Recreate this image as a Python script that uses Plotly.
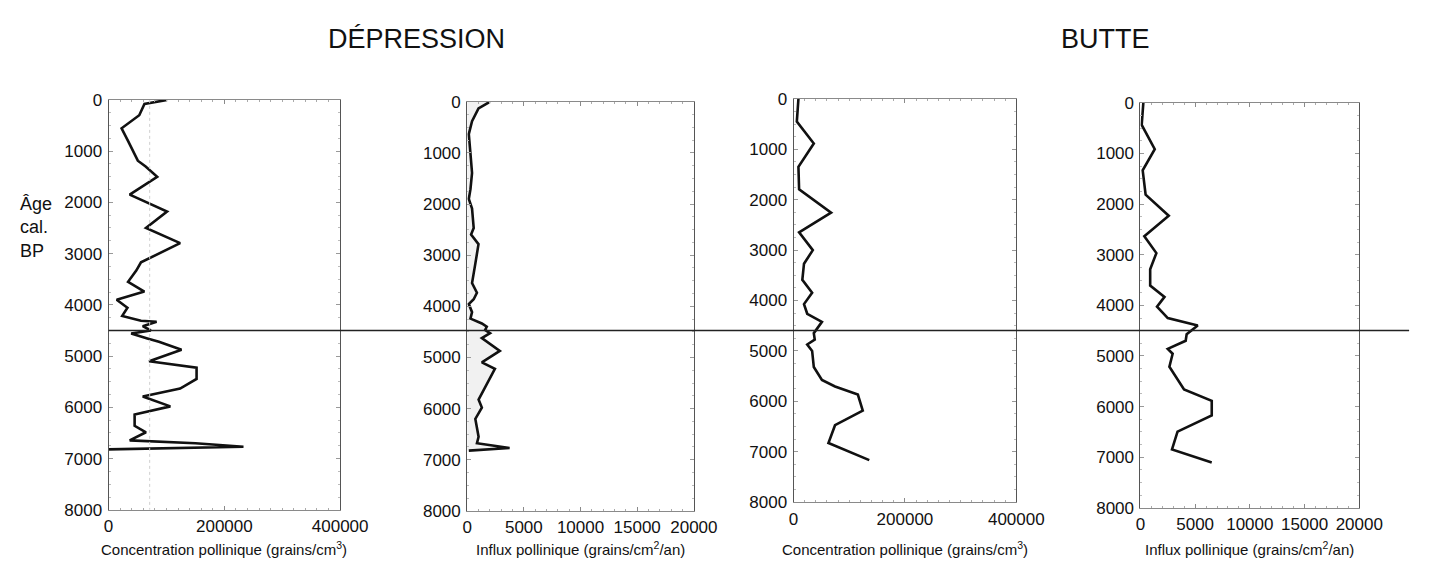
import plotly.graph_objects as go

# ---- Dépression : concentration pollinique (grains/cm3) vs âge cal. BP
dep_conc_age = [0, 80, 300, 555, 810, 1186, 1300, 1500, 1850, 2180, 2500, 2795, 3170, 3330,
                3550, 3740, 3900, 4057, 4215, 4310, 4330, 4416, 4500, 4560, 4656, 4720,
                4877, 5100, 5224, 5445, 5634, 5790, 5981, 6140, 6360, 6486, 6644, 6700,
                6770, 6820]
dep_conc_val = [101000, 62000, 53000, 22500, 34000, 50500, 64000, 84000, 36500, 101000,
                64600, 123600, 56000, 47800, 33700, 61800, 14000, 32600, 23600, 56000,
                83000, 59000, 73000, 39000, 67000, 87000, 126000, 70000, 152000, 152000,
                123600, 59000, 106700, 45000, 45000, 64600, 36500, 150000, 233000, 0]

# ---- Dépression : influx pollinique (grains/cm2/an)
dep_infl_age = [0, 127, 380, 633, 1013, 1392, 1709, 1900, 2089, 2468, 2595, 2785, 3165,
                3544, 3734, 3861, 3956, 4114, 4240, 4335, 4399, 4462, 4525, 4620, 4873,
                5095, 5222, 5823, 5981, 6203, 6551, 6677, 6772, 6823]
dep_infl_val = [2000, 1000, 430, 144, 290, 430, 290, 144, 430, 575, 345, 1000, 720, 430,
                860, 575, 144, 430, 290, 1295, 1727, 1583, 2014, 1295, 2878, 1295, 2446,
                1007, 1295, 720, 1007, 863, 3741, 144]

# ---- Butte : concentration pollinique
but_conc_age = [0, 450, 885, 1346, 1795, 2256, 2647, 3000, 3270, 3590, 3846, 4071, 4263,
                4423, 4647, 4776, 4872, 5000, 5320, 5577, 5705, 5865, 6186, 6474, 6827,
                7167]
but_conc_val = [8800, 5900, 36400, 8800, 10000, 67400, 10000, 34600, 18800, 15800, 33400,
                18800, 24600, 51000, 36400, 38100, 24600, 33400, 36400, 51000, 74500,
                115500, 124300, 74500, 62700, 136000]

# ---- Butte : influx pollinique
but_infl_age = [0, 436, 917, 1333, 1814, 2231, 2635, 2968, 3288, 3609, 3833, 4026, 4250,
                4397, 4571, 4699, 4859, 4955, 5212, 5660, 5885, 6173, 6494, 6846, 7103]
but_infl_val = [268, 119, 1310, 208, 476, 2589, 357, 1458, 893, 893, 2202, 1518, 2500,
                5238, 4226, 4137, 2500, 2946, 2649, 3988, 6518, 6518, 3393, 2887, 6518]

age_ticks = [0, 1000, 2000, 3000, 4000, 5000, 6000, 7000, 8000]
conc_ticks = [0, 200000, 400000]
infl_ticks = [0, 5000, 10000, 15000, 20000]
boundary_age = 4500          # horizontal marker across all panels
dep_conc_guide = 71000       # faint vertical guide in the first panel

site_titles = ["DÉPRESSION", "BUTTE"]
conc_title = "Concentration pollinique (grains/cm<sup>3</sup>)"
infl_title = "Influx pollinique (grains/cm<sup>2</sup>/an)"

W, H = 1442, 574
FONT = "Liberation Sans, Arial, sans-serif"

def px_x(a, b):
    return [a / W, b / W]

def px_y(top, bottom):
    return [1 - bottom / H, 1 - top / H]

panels = [
    dict(age=dep_conc_age, val=dep_conc_val, xd=px_x(106, 343), yd=px_y(94, 518),
         rng=[0, 400000], ticks=conc_ticks, minor=20000, fill=False),
    dict(age=dep_infl_age, val=dep_infl_val, xd=px_x(473, 705), yd=px_y(96, 519),
         rng=[0, 20000], ticks=infl_ticks, minor=1000, fill=True),
    dict(age=but_conc_age, val=but_conc_val, xd=px_x(807, 1035), yd=px_y(93, 510),
         rng=[0, 400000], ticks=conc_ticks, minor=20000, fill=False),
    dict(age=but_infl_age, val=but_infl_val, xd=px_x(1162, 1386), yd=px_y(97, 516),
         rng=[0, 20000], ticks=infl_ticks, minor=1000, fill=False),
]

fig = go.Figure()
layout = dict(
    width=W, height=H, margin=dict(l=0, r=0, t=0, b=0),
    paper_bgcolor="white", plot_bgcolor="white", showlegend=False,
    font=dict(family=FONT, color="#111"),
)

for i, p in enumerate(panels, start=1):
    xa = "x" if i == 1 else f"x{i}"
    ya = "y" if i == 1 else f"y{i}"
    fig.add_trace(go.Scatter(
        x=p["val"], y=p["age"], xaxis=xa, yaxis=ya, mode="lines",
        line=dict(color="#111", width=2.6),
        fill="tozerox" if p["fill"] else None,
        fillcolor="rgba(200,200,200,0.25)",
        hoverinfo="skip",
    ))
    layout["xaxis" if i == 1 else f"xaxis{i}"] = dict(
        domain=p["xd"], anchor=ya, range=p["rng"], tickvals=p["ticks"],
        ticktext=[str(t) for t in p["ticks"]],
        showgrid=False, zeroline=False, showline=True, mirror="ticks",
        linecolor="#8a8a8a", linewidth=1, ticks="inside", ticklen=4, tickcolor="#8a8a8a",
        minor=dict(dtick=p["minor"], ticks="inside", ticklen=2, tickcolor="#aaa"),
        tickfont=dict(size=17, family=FONT, color="#111"),
        ticklabelstandoff=1,
        fixedrange=True,
    )
    layout["yaxis" if i == 1 else f"yaxis{i}"] = dict(
        domain=p["yd"], anchor=xa, range=[8000, 0], tickvals=age_ticks,
        showgrid=False, zeroline=False, showline=True, mirror="ticks",
        linecolor="#555", linewidth=1, ticks="inside", ticklen=4, tickcolor="#999",
        minor=dict(dtick=250, ticks="inside", ticklen=2, tickcolor="#bbb"),
        tickfont=dict(size=17, family=FONT, color="#111"),
        ticklabelstandoff=2,
        fixedrange=True,
    )

fig.update_layout(**layout)

# faint vertical guide in the first panel
fig.add_shape(type="line", xref="x", yref="y", x0=dep_conc_guide, x1=dep_conc_guide,
              y0=0, y1=8000, line=dict(color="#cfcfcf", width=1, dash="dot"))

# boundary line running across all panels
fig.add_shape(type="line", xref="paper", yref="y",
              x0=panels[0]["xd"][0], x1=1437 / W, y0=boundary_age, y1=boundary_age,
              line=dict(color="#222", width=1.6))

# site headings
for text, xc in zip(site_titles, [421, 1126]):
    fig.add_annotation(text=text, xref="paper", yref="paper", x=xc / W, y=1 - 31 / H,
                       showarrow=False, xanchor="center", yanchor="middle",
                       font=dict(size=27, family=FONT, color="#111"))

# axis titles
for p, t in zip(panels, [conc_title, infl_title, conc_title, infl_title]):
    xc = (p["xd"][0] + p["xd"][1]) / 2
    fig.add_annotation(text=t, xref="paper", yref="paper", x=xc, y=1 - 558 / H,
                       showarrow=False, xanchor="center", yanchor="middle",
                       font=dict(size=15, family=FONT, color="#111"))

# vertical axis label
fig.add_annotation(text="Âge<br>cal.<br>BP", xref="paper", yref="paper",
                   x=13 / W, y=1 - 226 / H, showarrow=False, xanchor="left",
                   yanchor="middle", align="left",
                   font=dict(size=18, family=FONT, color="#111"))

fig.write_html("out.html")
